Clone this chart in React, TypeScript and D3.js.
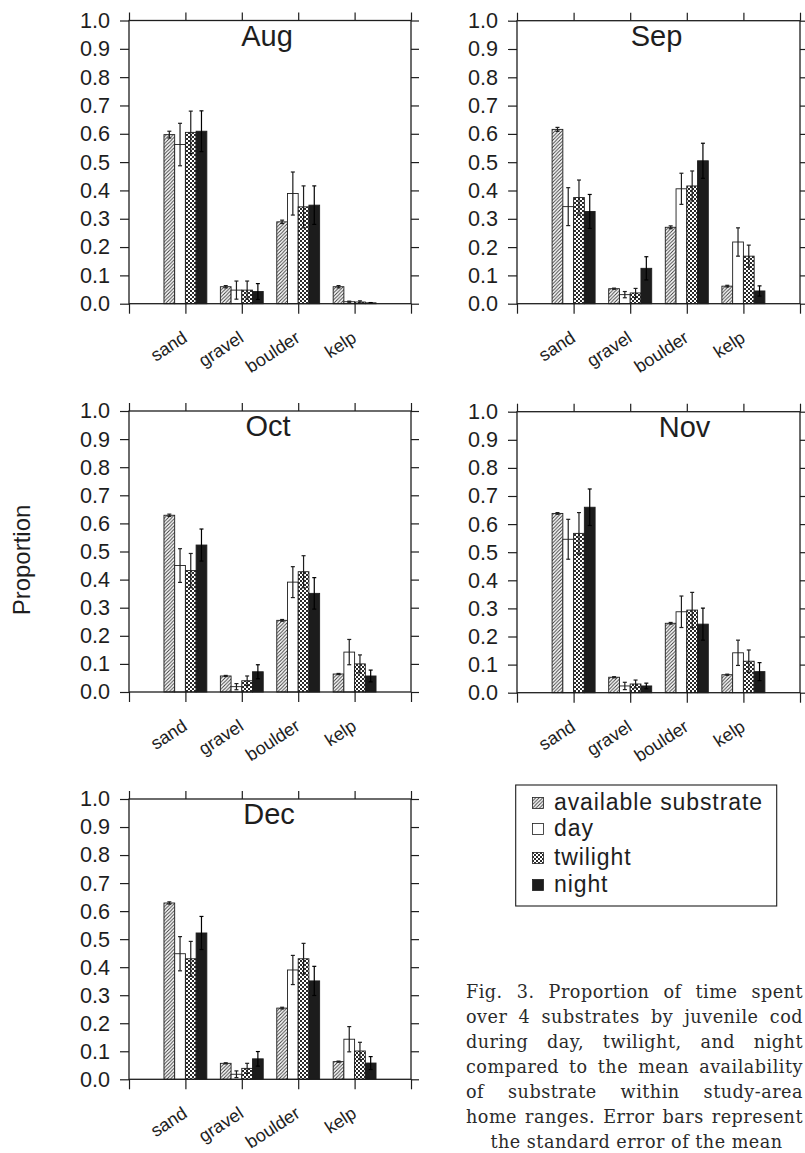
import React, { useEffect, useRef } from 'react';
import * as d3 from 'd3';

/* ── Data ─────────────────────────────────────────────────────── */
const categories = ['sand', 'gravel', 'boulder', 'kelp'];
const seriesNames = ['available substrate', 'day', 'twilight', 'night'];
const months = ['Aug', 'Sep', 'Oct', 'Nov', 'Dec'];
const yTicks = [0, 0.1, 0.2, 0.3, 0.4, 0.5, 0.6, 0.7, 0.8, 0.9, 1.0];
const yTickLabels = ['0.0', '0.1', '0.2', '0.3', '0.4', '0.5', '0.6', '0.7', '0.8', '0.9', '1.0'];

// rows = substrate (sand, gravel, boulder, kelp), cols = series
const augMean = [[0.597, 0.562, 0.605, 0.609], [0.060, 0.048, 0.048, 0.043], [0.289, 0.389, 0.342, 0.348], [0.060, 0.007, 0.006, 0.003]];
const augSE = [[0.012, 0.075, 0.075, 0.072], [0.004, 0.032, 0.032, 0.028], [0.006, 0.076, 0.074, 0.068], [0.004, 0.002, 0.004, 0.001]];

const sepMean = [[0.616, 0.343, 0.375, 0.326], [0.053, 0.032, 0.038, 0.125], [0.270, 0.406, 0.416, 0.505], [0.062, 0.218, 0.168, 0.045]];
const sepSE = [[0.007, 0.067, 0.062, 0.060], [0.002, 0.011, 0.016, 0.041], [0.005, 0.055, 0.053, 0.062], [0.003, 0.050, 0.039, 0.018]];

const octMean = [[0.629, 0.450, 0.432, 0.523], [0.057, 0.019, 0.040, 0.072], [0.255, 0.391, 0.428, 0.351], [0.064, 0.142, 0.100, 0.057]];
const octSE = [[0.004, 0.060, 0.061, 0.057], [0.002, 0.011, 0.017, 0.025], [0.003, 0.055, 0.057, 0.056], [0.002, 0.045, 0.032, 0.021]];

const novMean = [[0.638, 0.546, 0.567, 0.660], [0.055, 0.024, 0.031, 0.024], [0.247, 0.288, 0.294, 0.244], [0.064, 0.142, 0.112, 0.075]];
const novSE = [[0.003, 0.071, 0.074, 0.065], [0.002, 0.013, 0.014, 0.010], [0.003, 0.056, 0.063, 0.057], [0.002, 0.045, 0.040, 0.032]];

const decMean = [[0.629, 0.448, 0.430, 0.522], [0.057, 0.018, 0.039, 0.073], [0.254, 0.390, 0.430, 0.351], [0.063, 0.143, 0.101, 0.058]];
const decSE = [[0.004, 0.061, 0.062, 0.059], [0.002, 0.012, 0.018, 0.026], [0.003, 0.052, 0.055, 0.052], [0.002, 0.045, 0.031, 0.023]];

const meansByMonth = [augMean, sepMean, octMean, novMean, decMean];
const seByMonth = [augSE, sepSE, octSE, novSE, decSE];

const captionLines = [
  'Fig. 3. Proportion of time spent',
  'over 4 substrates by juvenile cod',
  'during day, twilight, and night',
  'compared to the mean availability',
  'of substrate within study-area',
  'home ranges. Error bars represent',
  'the standard error of the mean',
];

/* ── Layout ───────────────────────────────────────────────────── */
const W = 805;
const H = 1153;
const panelBoxes = [
  { x0: 129, x1: 411, y0: 20.5, y1: 303.7, titleDx: -3 },
  { x0: 517, x1: 800, y0: 20.7, y1: 303.7, titleDx: -2 },
  { x0: 129, x1: 411, y0: 411, y1: 692, titleDx: -2 },
  { x0: 517, x1: 800, y0: 411.7, y1: 692.7, titleDx: 26 },
  { x0: 129, x1: 411, y0: 799, y1: 1079.3, titleDx: -1 },
];
const legendBaselines = [810, 836, 865, 892];

export default function App() {
  const ref = useRef<SVGSVGElement | null>(null);

  useEffect(() => {
    if (!ref.current) return;
    const svg = d3.select(ref.current);
    svg.selectAll('*').remove();

    const ink = '#1e1e1e';
    const sans = '"Liberation Sans", Arial, Helvetica, sans-serif';
    const serif = '"DejaVu Serif", Georgia, serif';

    /* patterns */
    const defs = svg.append('defs');
    const hatch = defs.append('pattern').attr('id', 'hatch')
      .attr('patternUnits', 'userSpaceOnUse').attr('width', 3.5).attr('height', 3.5);
    hatch.append('rect').attr('width', 3.5).attr('height', 3.5).attr('fill', '#fff');
    hatch.append('path')
      .attr('d', 'M-1,1 L1,-1 M0,3.5 L3.5,0 M2.5,4.5 L4.5,2.5')
      .attr('stroke', '#333').attr('stroke-width', 0.9);
    const check = defs.append('pattern').attr('id', 'check')
      .attr('patternUnits', 'userSpaceOnUse').attr('width', 4).attr('height', 4);
    check.append('rect').attr('width', 4).attr('height', 4).attr('fill', '#fff');
    check.append('rect').attr('width', 2).attr('height', 2).attr('fill', '#2a2a2a');
    check.append('rect').attr('x', 2).attr('y', 2).attr('width', 2).attr('height', 2).attr('fill', '#2a2a2a');

    const fills = ['url(#hatch)', '#fff', 'url(#check)', '#1c1c1c'];

    /* panels */
    panelBoxes.forEach((b, pi) => {
      const means = meansByMonth[pi];
      const ses = seByMonth[pi];
      const g = svg.append('g');

      const xl = d3.scaleLinear().domain([0, 5]).range([b.x0, b.x1]);
      const x = d3.scalePoint<string>().domain(categories).range([b.x0, b.x1]).padding(1);
      const half = x.step() * 0.38;
      const xs = d3.scaleBand<string>().domain(seriesNames).range([-half, half]);
      const y = d3.scaleLinear().domain([0, 1]).range([b.y1, b.y0]);

      const rows = categories.flatMap((c, ci) =>
        seriesNames.map((s, si) => ({ c, s, si, v: means[ci][si], se: ses[ci][si] }))
      );

      g.selectAll('rect.bar')
        .data(rows)
        .join('rect')
        .attr('class', 'bar')
        .attr('x', d => x(d.c)! + xs(d.s)!)
        .attr('y', d => y(d.v))
        .attr('width', xs.bandwidth())
        .attr('height', d => y(0) - y(d.v))
        .attr('fill', d => fills[d.si])
        .attr('stroke', ink)
        .attr('stroke-width', 0.9);

      // error bars
      const eb = g.selectAll('g.err').data(rows).join('g').attr('class', 'err')
        .attr('stroke', d => (d.si === 3 ? '#000' : ink)).attr('stroke-width', 1.2);
      const cx = (d: any) => x(d.c)! + xs(d.s)! + xs.bandwidth() / 2;
      eb.append('line')
        .attr('x1', cx).attr('x2', cx)
        .attr('y1', d => y(Math.max(0, d.v - d.se))).attr('y2', d => y(d.v + d.se));
      eb.append('line')
        .attr('x1', d => cx(d) - 2).attr('x2', d => cx(d) + 2)
        .attr('y1', d => y(d.v + d.se)).attr('y2', d => y(d.v + d.se));
      eb.append('line')
        .attr('x1', d => cx(d) - 2).attr('x2', d => cx(d) + 2)
        .attr('y1', d => y(Math.max(0, d.v - d.se))).attr('y2', d => y(Math.max(0, d.v - d.se)));

      // axes / frame
      const styleAxis = (sel: any) => {
        sel.select('.domain').remove();
        sel.selectAll('line').attr('stroke', ink).attr('stroke-width', 1.2);
        sel.selectAll('text').attr('font-family', sans).attr('font-size', 21.6).attr('fill', ink);
      };
      g.append('g').attr('transform', `translate(${b.x0},0)`)
        .call(d3.axisLeft(y).tickValues(yTicks).tickSize(9).tickPadding(10)
          .tickFormat((_d, i) => yTickLabels[i]))
        .call(styleAxis);
      g.append('g').attr('transform', `translate(${b.x1},0)`)
        .call(d3.axisRight(y).tickValues(yTicks).tickSize(8).tickFormat(() => ''))
        .call(styleAxis);
      g.append('g').attr('transform', `translate(0,${b.y0})`)
        .call(d3.axisTop(xl).tickValues(d3.range(6)).tickSize(8).tickFormat(() => ''))
        .call(styleAxis);
      g.append('g').attr('transform', `translate(0,${b.y1})`)
        .call(d3.axisBottom(xl).tickValues(d3.range(6)).tickSize(10).tickFormat(() => ''))
        .call(styleAxis);
      g.append('rect')
        .attr('x', b.x0).attr('y', b.y0)
        .attr('width', b.x1 - b.x0).attr('height', b.y1 - b.y0)
        .attr('fill', 'none').attr('stroke', ink).attr('stroke-width', 1.3);

      // category labels
      g.selectAll('text.cat')
        .data(categories)
        .join('text')
        .attr('class', 'cat')
        .attr('transform', c => `translate(${x(c)! + 3},${b.y1 + 37}) rotate(-33)`)
        .attr('text-anchor', 'end')
        .attr('font-family', sans)
        .attr('font-size', 18)
        .attr('fill', ink)
        .text(c => c);

      // month title
      g.append('text')
        .attr('x', (b.x0 + b.x1) / 2 + b.titleDx)
        .attr('y', b.y0 + 25)
        .attr('text-anchor', 'middle')
        .attr('font-family', sans)
        .attr('font-size', 29)
        .attr('fill', ink)
        .text(months[pi]);
    });

    /* y-axis title */
    svg.append('text')
      .attr('transform', 'translate(30,560) rotate(-90)')
      .attr('text-anchor', 'middle')
      .attr('font-family', sans)
      .attr('font-size', 24)
      .attr('fill', ink)
      .text('Proportion');

    /* legend */
    const lg = svg.append('g');
    lg.append('rect')
      .attr('x', 515.7).attr('y', 785).attr('width', 261).attr('height', 121)
      .attr('fill', '#fff').attr('stroke', ink).attr('stroke-width', 1.1);
    seriesNames.forEach((s, i) => {
      const by = legendBaselines[i];
      lg.append('rect')
        .attr('x', 532.5).attr('y', by - 12.5).attr('width', 11).attr('height', 11)
        .attr('fill', fills[i]).attr('stroke', ink).attr('stroke-width', 0.8);
      lg.append('text')
        .attr('x', 554).attr('y', by)
        .attr('font-family', sans).attr('font-size', 23).attr('letter-spacing', 0.9)
        .attr('fill', ink)
        .text(s);
    });

    /* caption (justified block) */
    const capLeft = 466;
    const capRight = 803;
    const cg = svg.append('g')
      .attr('font-family', serif).attr('font-size', 17.6).attr('fill', '#2a2a2a')
      .attr('letter-spacing', 0.5);
    captionLines.forEach((line, i) => {
      const yy = 998 + i * 25;
      const last = i === captionLines.length - 1;
      const t = cg.append('text').attr('y', yy).text(line);
      if (last) {
        t.attr('x', (capLeft + capRight) / 2 + 2).attr('text-anchor', 'middle');
      } else {
        t.attr('x', capLeft);
        const node = t.node() as SVGTextElement;
        const len = node.getComputedTextLength();
        const gaps = line.split(' ').length - 1;
        if (gaps > 0) t.attr('word-spacing', Math.max(0, (capRight - capLeft - len) / gaps));
      }
    });
  }, []);

  return (
    <svg
      ref={ref}
      width={W}
      height={H}
      style={{ position: 'absolute', left: 0, top: 0, background: '#fff', display: 'block' }}
    />
  );
}
